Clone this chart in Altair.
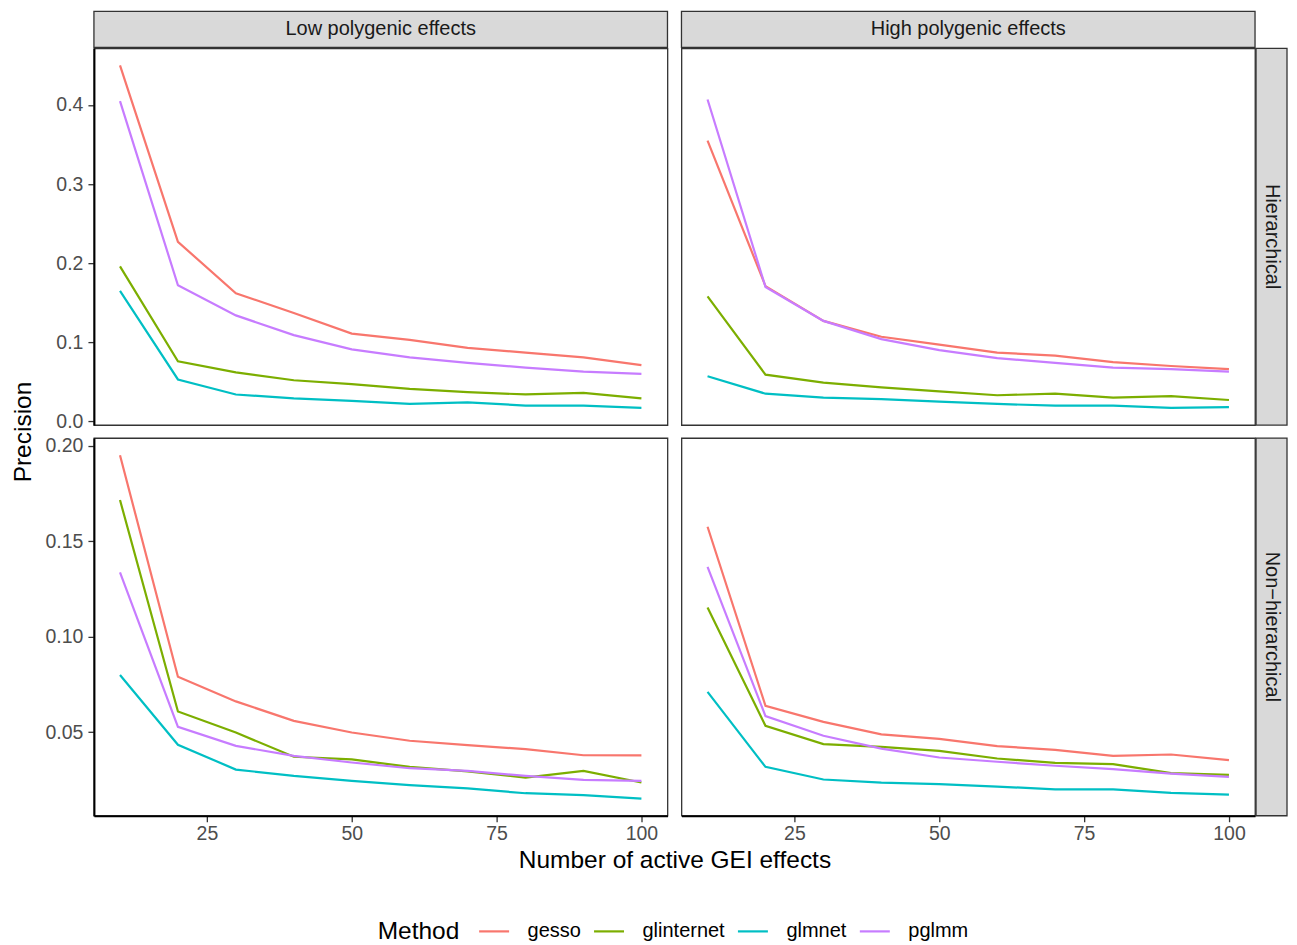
import altair as alt
import pandas as pd

# ---------------- data ----------------
x_vals = [10, 20, 30, 40, 50, 60, 70, 80, 90, 100]
methods = ["gesso", "glinternet", "glmnet", "pglmm"]
colors = ["#F8766D", "#7CAE00", "#00BFC4", "#C77CFF"]
col_labels = ["Low polygenic effects", "High polygenic effects"]
row_labels = ["Hierarchical", "Non\u2212hierarchical"]

# Hierarchical / Low polygenic effects
hl_gesso = [0.450, 0.227, 0.162, 0.137, 0.111, 0.103, 0.093, 0.087, 0.081, 0.071]
hl_glinternet = [0.196, 0.076, 0.062, 0.052, 0.047, 0.041, 0.037, 0.034, 0.036, 0.029]
hl_glmnet = [0.165, 0.053, 0.034, 0.029, 0.026, 0.022, 0.024, 0.020, 0.020, 0.017]
hl_pglmm = [0.405, 0.172, 0.134, 0.109, 0.091, 0.081, 0.074, 0.068, 0.063, 0.060]

# Hierarchical / High polygenic effects
hh_gesso = [0.355, 0.171, 0.127, 0.107, 0.097, 0.087, 0.083, 0.075, 0.070, 0.066]
hh_glinternet = [0.158, 0.059, 0.049, 0.043, 0.038, 0.033, 0.035, 0.030, 0.032, 0.027]
hh_glmnet = [0.057, 0.035, 0.030, 0.028, 0.025, 0.022, 0.020, 0.020, 0.017, 0.018]
hh_pglmm = [0.407, 0.170, 0.127, 0.104, 0.090, 0.080, 0.074, 0.068, 0.066, 0.063]

# Non-hierarchical / Low polygenic effects
nl_gesso = [0.1951, 0.0790, 0.0661, 0.0559, 0.0498, 0.0455, 0.0432, 0.0411, 0.0379, 0.0378]
nl_glinternet = [0.1716, 0.0608, 0.0498, 0.0371, 0.0357, 0.0318, 0.0294, 0.0262, 0.0297, 0.0236]
nl_glmnet = [0.0799, 0.0434, 0.0304, 0.0271, 0.0245, 0.0222, 0.0205, 0.0180, 0.0170, 0.0152]
nl_pglmm = [0.1337, 0.0528, 0.0428, 0.0376, 0.0341, 0.0311, 0.0297, 0.0271, 0.0250, 0.0245]

# Non-hierarchical / High polygenic effects
nh_gesso = [0.1576, 0.0638, 0.0554, 0.0488, 0.0465, 0.0427, 0.0407, 0.0376, 0.0383, 0.0353]
nh_glinternet = [0.1153, 0.0533, 0.0437, 0.0423, 0.0402, 0.0362, 0.0339, 0.0332, 0.0285, 0.0276]
nh_glmnet = [0.0711, 0.0318, 0.0252, 0.0236, 0.0228, 0.0215, 0.0200, 0.0200, 0.0182, 0.0173]
nh_pglmm = [0.1366, 0.0584, 0.0481, 0.0414, 0.0367, 0.0345, 0.0324, 0.0306, 0.0283, 0.0266]

x_ticks = [25, 50, 75, 100]
top_y_ticks = [0.0, 0.1, 0.2, 0.3, 0.4]
bottom_y_ticks = [0.05, 0.10, 0.15, 0.20]

x_title = "Number of active GEI effects"
y_title = "Precision"
legend_title = "Method"

FONT = "Liberation Sans"
PW, PH = 574, 377
STRIP_T = 36   # height of the top strips
STRIP_R = 31   # width of the right strips
GAP_C, GAP_R = 14, 13


def panel_df(series):
    rows = []
    for m, vals in zip(methods, series):
        for xv, yv in zip(x_vals, vals):
            rows.append({"x": xv, "precision": yv, "method": m})
    return pd.DataFrame(rows)


df_hl = panel_df([hl_gesso, hl_glinternet, hl_glmnet, hl_pglmm])
df_hh = panel_df([hh_gesso, hh_glinternet, hh_glmnet, hh_pglmm])
df_nl = panel_df([nl_gesso, nl_glinternet, nl_glmnet, nl_pglmm])
df_nh = panel_df([nh_gesso, nh_glinternet, nh_glmnet, nh_pglmm])


def expand(vals, f=0.05):
    lo, hi = min(vals), max(vals)
    r = hi - lo
    return [lo - f * r, hi + f * r]


x_dom = expand(x_vals)
top_dom = expand(list(df_hl.precision) + list(df_hh.precision))
bot_dom = expand(list(df_nl.precision) + list(df_nh.precision))

legend = alt.Legend(
    title=legend_title, orient="none", legendX=284, legendY=867,
    direction="horizontal", titleOrient="left", titleAnchor="middle",
    titleBaseline="line-top", titleLineHeight=8.5,
    symbolType="stroke", symbolSize=900, symbolStrokeWidth=2.2,
    labelFontSize=20, titleFontSize=24.5,
    labelColor="black", titleColor="black", titleFontWeight="normal",
    labelOffset=17, columnPadding=8, titlePadding=18, labelFont=FONT, titleFont=FONT,
)


def lines(df, ydom, yaxis, xaxis):
    return alt.Chart(df).mark_line(strokeWidth=2.2).encode(
        x=alt.X("x:Q", scale=alt.Scale(domain=x_dom, nice=False, zero=False), axis=xaxis),
        y=alt.Y("precision:Q", scale=alt.Scale(domain=ydom, nice=False, zero=False), axis=yaxis),
        color=alt.Color("method:N", scale=alt.Scale(domain=methods, range=colors), legend=legend),
    )


def top_strip(label):
    d = pd.DataFrame({"label": [label]})
    rect = alt.Chart(d).mark_rect(fill="#D9D9D9", stroke="#333333", strokeWidth=1.3).encode(
        x=alt.value(0), x2=alt.value(PW), y=alt.value(-STRIP_T - 1), y2=alt.value(-1)
    )
    txt = alt.Chart(d).mark_text(font=FONT, fontSize=20, color="#1A1A1A").encode(
        text="label:N", x=alt.value(PW / 2), y=alt.value(-STRIP_T / 2 - 1)
    )
    return [rect, txt]


def right_strip(label, h):
    d = pd.DataFrame({"label": [label]})
    rect = alt.Chart(d).mark_rect(fill="#D9D9D9", stroke="#333333", strokeWidth=1.3).encode(
        x=alt.value(PW + 1), x2=alt.value(PW + 1 + STRIP_R), y=alt.value(0), y2=alt.value(h)
    )
    txt = alt.Chart(d).mark_text(font=FONT, fontSize=20, color="#1A1A1A", angle=90).encode(
        text="label:N", x=alt.value(PW + 1 + STRIP_R / 2), y=alt.value(h / 2)
    )
    return [rect, txt]


ax_y_top = alt.Axis(values=top_y_ticks, format=".1f", title=y_title, titleX=-58, titleY=PH + GAP_R / 2)
ax_y_bot = alt.Axis(values=bottom_y_ticks, format=".2f", title=None)
ax_x_bl = alt.Axis(values=x_ticks, format="d", title=x_title, titleX=(2 * PW + GAP_C) / 2,
                   titleY=33, labelPadding=3)
ax_x_br = alt.Axis(values=x_ticks, format="d", title=None, labelPadding=3)

p_tl = alt.layer(lines(df_hl, top_dom, ax_y_top, None), *top_strip(col_labels[0])).properties(width=PW, height=PH)
p_tr = alt.layer(
    lines(df_hh, top_dom, None, None), *top_strip(col_labels[1]), *right_strip(row_labels[0], PH)
).properties(width=PW, height=PH)
p_bl = alt.layer(lines(df_nl, bot_dom, ax_y_bot, ax_x_bl)).properties(width=PW, height=PH + 1)
p_br = alt.layer(
    lines(df_nh, bot_dom, None, ax_x_br), *right_strip(row_labels[1], PH + 1)
).properties(width=PW, height=PH + 1)

chart = alt.concat(
    p_tl, p_tr, p_bl, p_br, columns=2, spacing={"row": GAP_R, "column": GAP_C}, bounds="flush"
).resolve_scale(
    x="independent", y="independent"
).properties(
    padding={"left": 2, "top": 1, "right": 0, "bottom": 2}
).configure(font=FONT).configure_view(
    stroke="#333333", strokeWidth=1.3
).configure_axis(
    grid=False, labelFont=FONT, labelFontSize=19.5, labelColor="#4D4D4D",
    tickColor="#333333", tickSize=6, tickWidth=1.3, domainColor="black", domainWidth=2,
    labelPadding=5, titleFont=FONT, titleFontSize=24.5, titleColor="black",
    titleFontWeight="normal",
)

chart.save("out.html", embed_options={"renderer": "svg", "actions": False})
